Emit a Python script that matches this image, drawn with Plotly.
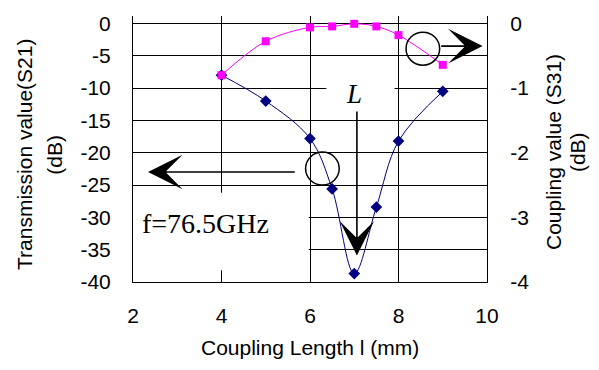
import plotly.graph_objects as go

# Data
length_mm = [4, 5, 6, 6.5, 7, 7.5, 8, 9]
s21_db = [-8.0, -12.0, -17.8, -25.6, -38.7, -28.4, -18.2, -10.5]
s31_db = [-0.80, -0.275, -0.06, -0.045, -0.005, -0.045, -0.18, -0.64]

left_ticks = [0, -5, -10, -15, -20, -25, -30, -35, -40]
right_ticks = [0, -1, -2, -3, -4]
x_ticks = [2, 4, 6, 8, 10]

SANS = "Liberation Sans, Arial, sans-serif"
SERIF = "Liberation Serif, Times New Roman, serif"

fig = go.Figure()
fig.add_trace(go.Scatter(
    x=length_mm, y=s21_db, mode="lines+markers",
    line=dict(color="#000080", width=1, shape="spline", smoothing=1),
    marker=dict(symbol="diamond", size=9, color="#000080"),
    yaxis="y", showlegend=False, cliponaxis=False))
fig.add_trace(go.Scatter(
    x=length_mm, y=s31_db, mode="lines+markers",
    line=dict(color="#FF00FF", width=1, shape="spline", smoothing=1),
    marker=dict(symbol="square", size=8, color="#FF00FF"),
    yaxis="y2", showlegend=False, cliponaxis=False))

fig.update_layout(
    width=599, height=370,
    margin=dict(l=133, r=112, t=12, b=88, pad=0),
    paper_bgcolor="white", plot_bgcolor="white",
    font=dict(family=SANS, size=20, color="black"),
    xaxis=dict(range=[2, 10], tickvals=x_ticks, ticktext=[str(v) for v in x_ticks],
               showgrid=True, gridcolor="black", gridwidth=1,
               showline=True, linecolor="black", linewidth=1,
               ticks="", zeroline=False, ticklabelstandoff=15,
               tickfont=dict(size=21)),
    yaxis=dict(range=[-40, 1.16], tickvals=left_ticks,
               ticktext=[str(v) for v in left_ticks],
               showgrid=True, gridcolor="black", gridwidth=1,
               showline=True, linecolor="black", linewidth=1,
               ticks="", zeroline=False, ticklabelstandoff=17,
               tickfont=dict(size=21)),
    yaxis2=dict(range=[-4, 0.116], tickvals=right_ticks,
                ticktext=[str(v) for v in right_ticks],
                overlaying="y", side="right", showgrid=False,
                showline=True, linecolor="black", linewidth=1,
                ticks="", zeroline=False, ticklabelstandoff=18,
                tickfont=dict(size=21)),
)

# white label boxes and circles
fig.add_shape(type="rect", xref="x", yref="y", x0=1.97, x1=5.97, y0=-38.2, y1=-26.2,
              fillcolor="white", line=dict(width=0), layer="above")
fig.add_shape(type="rect", xref="x", yref="y", x0=6.37, x1=7.91, y0=-14.95, y1=-9.5,
              fillcolor="white", line=dict(width=0), layer="above")
fig.add_shape(type="circle", xref="x", yref="y", x0=5.90, x1=6.66, y0=-25.0, y1=-19.9,
              line=dict(color="black", width=1.5), layer="above")
fig.add_shape(type="circle", xref="x", yref="y", x0=8.17, x1=8.93, y0=-6.45, y1=-1.35,
              line=dict(color="black", width=1.5), layer="above")

# texts
fig.add_annotation(x=2.15, y=-30.9, xref="x", yref="y", text="f=76.5GHz", showarrow=False,
                   xanchor="left", yanchor="middle",
                   font=dict(family=SERIF, size=28, color="black"))
fig.add_annotation(x=7.0, y=-10.9, xref="x", yref="y", text="<i>L</i>", showarrow=False,
                   xanchor="center", yanchor="middle",
                   font=dict(family=SERIF, size=27, color="black"))

# arrows
arrow_style = dict(text="", showarrow=True, arrowhead=3, arrowwidth=1.6, arrowsize=3.6,
                   arrowcolor="black", xref="x", yref="y", axref="x", ayref="y")
fig.add_annotation(x=7.06, y=-35.9, ax=7.06, ay=-13.4, **arrow_style)
fig.add_annotation(x=2.34, y=-22.97, ax=5.69, ay=-22.97, **arrow_style)
fig.add_annotation(x=9.9, y=-3.5, ax=8.93, ay=-3.5, **arrow_style)

# axis titles
title_font = dict(size=21)
fig.add_annotation(x=-0.306, y=0.48, xref="paper", yref="paper", text="Transmission value(S21)",
                   textangle=-90, showarrow=False, xanchor="center", yanchor="middle",
                   font=title_font)
fig.add_annotation(x=-0.222, y=0.48, xref="paper", yref="paper", text="(dB)",
                   textangle=-90, showarrow=False, xanchor="center", yanchor="middle",
                   font=title_font)
fig.add_annotation(x=1.186, y=0.488, xref="paper", yref="paper", text="Coupling value (S31)",
                   textangle=-90, showarrow=False, xanchor="center", yanchor="middle",
                   font=title_font)
fig.add_annotation(x=1.254, y=0.488, xref="paper", yref="paper", text="(dB)",
                   textangle=-90, showarrow=False, xanchor="center", yanchor="middle",
                   font=title_font)
fig.add_annotation(x=0.5014, y=-0.245, xref="paper", yref="paper", text="Coupling Length l (mm)",
                   showarrow=False, xanchor="center", yanchor="middle", font=title_font)

fig.write_html("out.html")
